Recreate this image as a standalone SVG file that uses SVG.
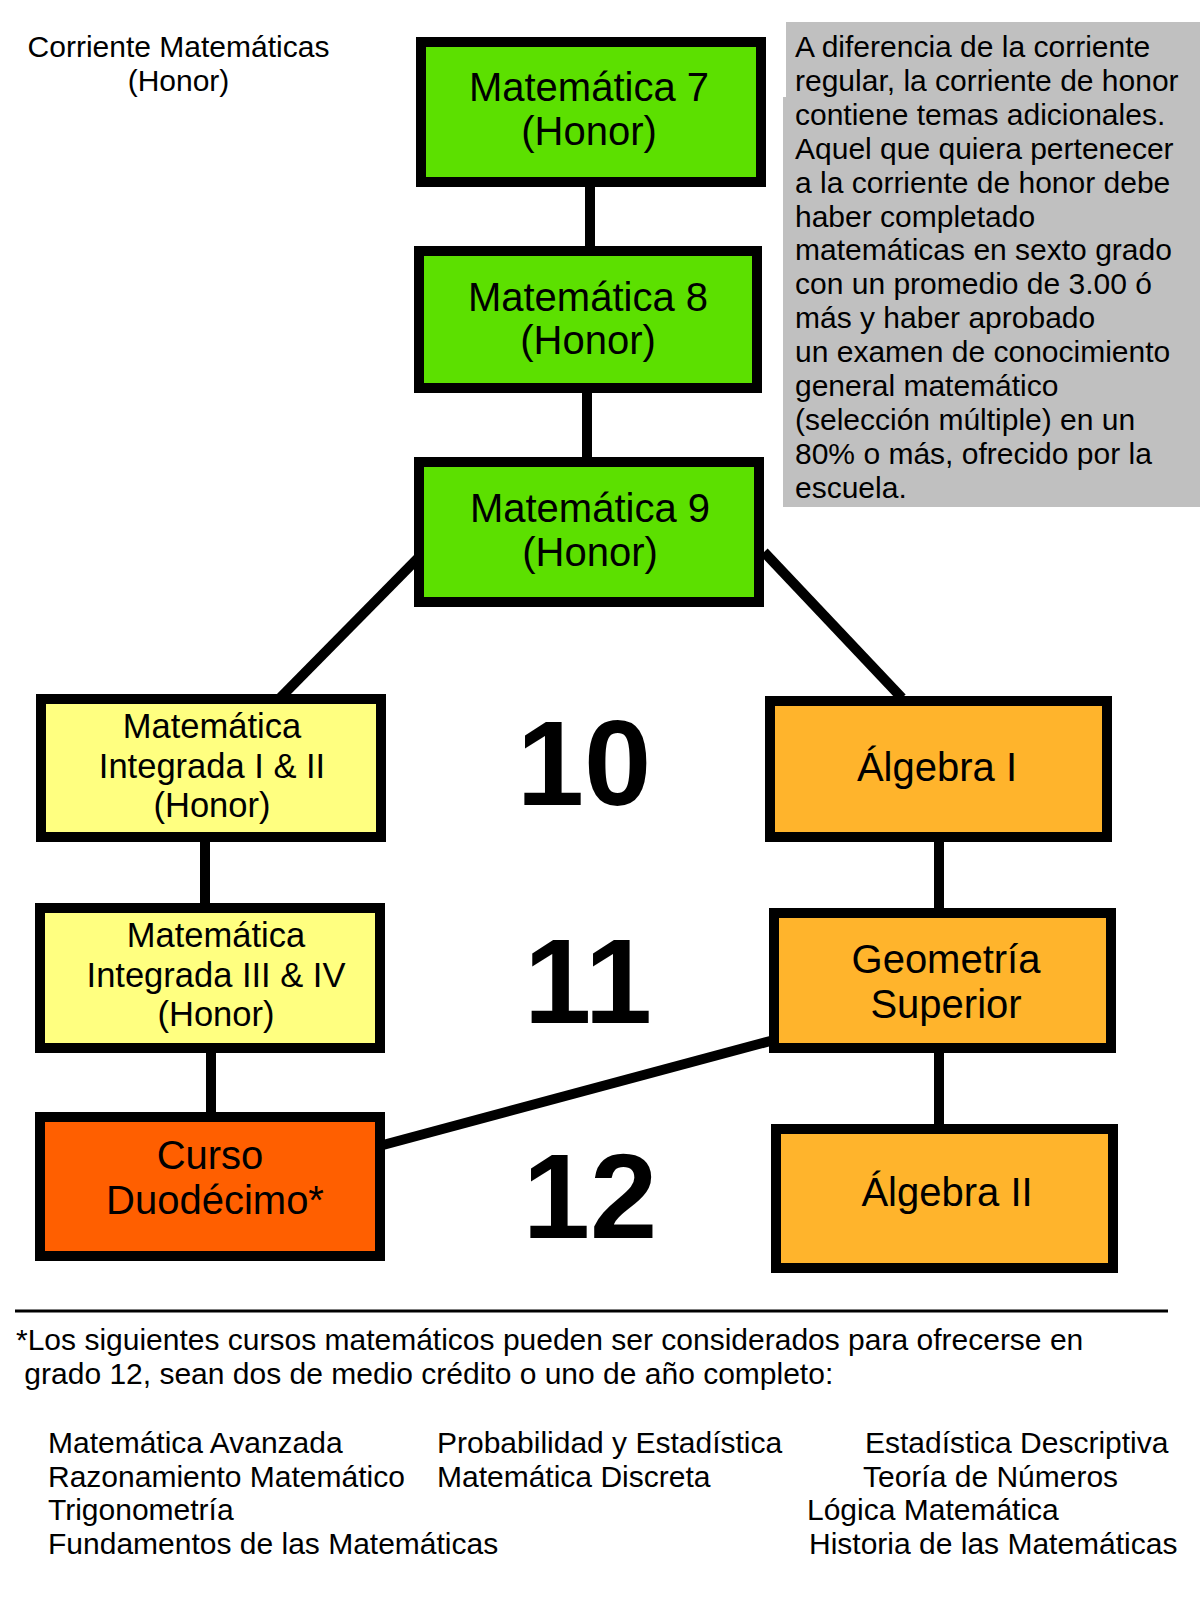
<svg xmlns="http://www.w3.org/2000/svg" width="1200" height="1600" viewBox="0 0 1200 1600">
<style>
text{font-family:"Liberation Sans",Arial,sans-serif;fill:#000}
.box{stroke:#000;stroke-width:10}
.green{fill:#5CE000}
.yellow{fill:#FFFF80}
.amber{fill:#FFB42C}
.red{fill:#FF5F00}
.lbl{font-size:40px;text-anchor:middle}
.lbl3{font-size:34.5px;text-anchor:middle}
.note{font-size:30px}
.num{font-size:121px;font-weight:bold;text-anchor:middle}
.conn{stroke:#000;stroke-width:10;fill:none}
</style>
<rect width="1200" height="1600" fill="#fff"/>
<g id="title">
<text class="note" x="178.5" y="57" text-anchor="middle">Corriente Matemáticas</text>
<text class="note" x="178.5" y="91" text-anchor="middle">(Honor)</text>
</g>
<g id="note">
<rect x="786" y="22" width="414" height="76" fill="#C0C0C0"/>
<rect x="783" y="97" width="417" height="410" fill="#C0C0C0"/>
<text class="note" x="795" y="57">A diferencia de la corriente</text>
<text class="note" x="795" y="90.9">regular, la corriente de honor</text>
<text class="note" x="795" y="124.8">contiene temas adicionales.</text>
<text class="note" x="795" y="158.7">Aquel que quiera pertenecer</text>
<text class="note" x="795" y="192.6">a la corriente de honor debe</text>
<text class="note" x="795" y="226.5">haber completado</text>
<text class="note" x="795" y="260.4">matemáticas en sexto grado</text>
<text class="note" x="795" y="294.3">con un promedio de 3.00 ó</text>
<text class="note" x="795" y="328.2">más y haber aprobado</text>
<text class="note" x="795" y="362.1">un examen de conocimiento</text>
<text class="note" x="795" y="396">general matemático</text>
<text class="note" x="795" y="429.9">(selección múltiple) en un</text>
<text class="note" x="795" y="463.8">80% o más, ofrecido por la</text>
<text class="note" x="795" y="497.7">escuela.</text>
</g>
<g id="connectors">
<line class="conn" x1="590" y1="185" x2="590" y2="248"/>
<line class="conn" x1="587" y1="391" x2="587" y2="459"/>
<line class="conn" x1="424" y1="552" x2="280" y2="698"/>
<line class="conn" x1="764" y1="552" x2="902" y2="698"/>
<line class="conn" x1="205" y1="840" x2="205" y2="906"/>
<line class="conn" x1="211" y1="1051" x2="211" y2="1114"/>
<line class="conn" x1="383" y1="1145" x2="774" y2="1040"/>
<line class="conn" x1="939" y1="840" x2="939" y2="910"/>
<line class="conn" x1="939" y1="1051" x2="939" y2="1126"/>
</g>
<g id="mat7">
<rect class="box green" x="421" y="42" width="340" height="140"/>
<text class="lbl" x="589" y="101">Matemática 7</text>
<text class="lbl" x="589" y="145">(Honor)</text>
</g>
<g id="mat8">
<rect class="box green" x="419" y="251" width="338" height="137"/>
<text class="lbl" x="588" y="311">Matemática 8</text>
<text class="lbl" x="588" y="354">(Honor)</text>
</g>
<g id="mat9">
<rect class="box green" x="419" y="462" width="340" height="140"/>
<text class="lbl" x="590" y="522">Matemática 9</text>
<text class="lbl" x="590" y="566">(Honor)</text>
</g>
<g id="int12">
<rect class="box yellow" x="41" y="699" width="340" height="138"/>
<text class="lbl3" x="212" y="738">Matemática</text>
<text class="lbl3" x="212" y="777.5">Integrada I &amp; II</text>
<text class="lbl3" x="212" y="817">(Honor)</text>
</g>
<g id="int34">
<rect class="box yellow" x="40" y="908" width="340" height="140"/>
<text class="lbl3" x="216" y="947">Matemática</text>
<text class="lbl3" x="216" y="986.5">Integrada III &amp; IV</text>
<text class="lbl3" x="216" y="1026">(Honor)</text>
</g>
<g id="curso">
<rect class="box red" x="40" y="1117" width="340" height="139"/>
<text class="lbl" x="210" y="1169">Curso</text>
<text class="lbl" x="215" y="1214">Duodécimo*</text>
</g>
<g id="alg1">
<rect class="box amber" x="770" y="701" width="337" height="136"/>
<text class="lbl" x="937" y="781">Álgebra I</text>
</g>
<g id="geo">
<rect class="box amber" x="774" y="913" width="337" height="135"/>
<text class="lbl" x="946" y="973">Geometría</text>
<text class="lbl" x="946" y="1018">Superior</text>
</g>
<g id="alg2">
<rect class="box amber" x="776" y="1129" width="337" height="139"/>
<text class="lbl" x="947" y="1206">Álgebra II</text>
</g>
<g id="grades">
<text class="num" x="584" y="805">10</text>
<text class="num" x="588" y="1023">11</text>
<text class="num" x="590" y="1238">12</text>
</g>
<g id="footer">
<line x1="15" y1="1311" x2="1168" y2="1311" stroke="#000" stroke-width="3"/>
<text class="note" x="16" y="1350">*Los siguientes cursos matemáticos pueden ser considerados para ofrecerse en</text>
<text class="note" x="16" y="1384" xml:space="preserve"> grado 12, sean dos de medio crédito o uno de año completo:</text>
<text class="note" x="48" y="1453">Matemática Avanzada</text>
<text class="note" x="48" y="1487">Razonamiento Matemático</text>
<text class="note" x="48" y="1520">Trigonometría</text>
<text class="note" x="48" y="1554">Fundamentos de las Matemáticas</text>
<text class="note" x="437" y="1453">Probabilidad y Estadística</text>
<text class="note" x="437" y="1487">Matemática Discreta</text>
<text class="note" x="865" y="1453">Estadística Descriptiva</text>
<text class="note" x="863" y="1487">Teoría de Números</text>
<text class="note" x="807" y="1520">Lógica Matemática</text>
<text class="note" x="809" y="1554">Historia de las Matemáticas</text>
</g>
</svg>
